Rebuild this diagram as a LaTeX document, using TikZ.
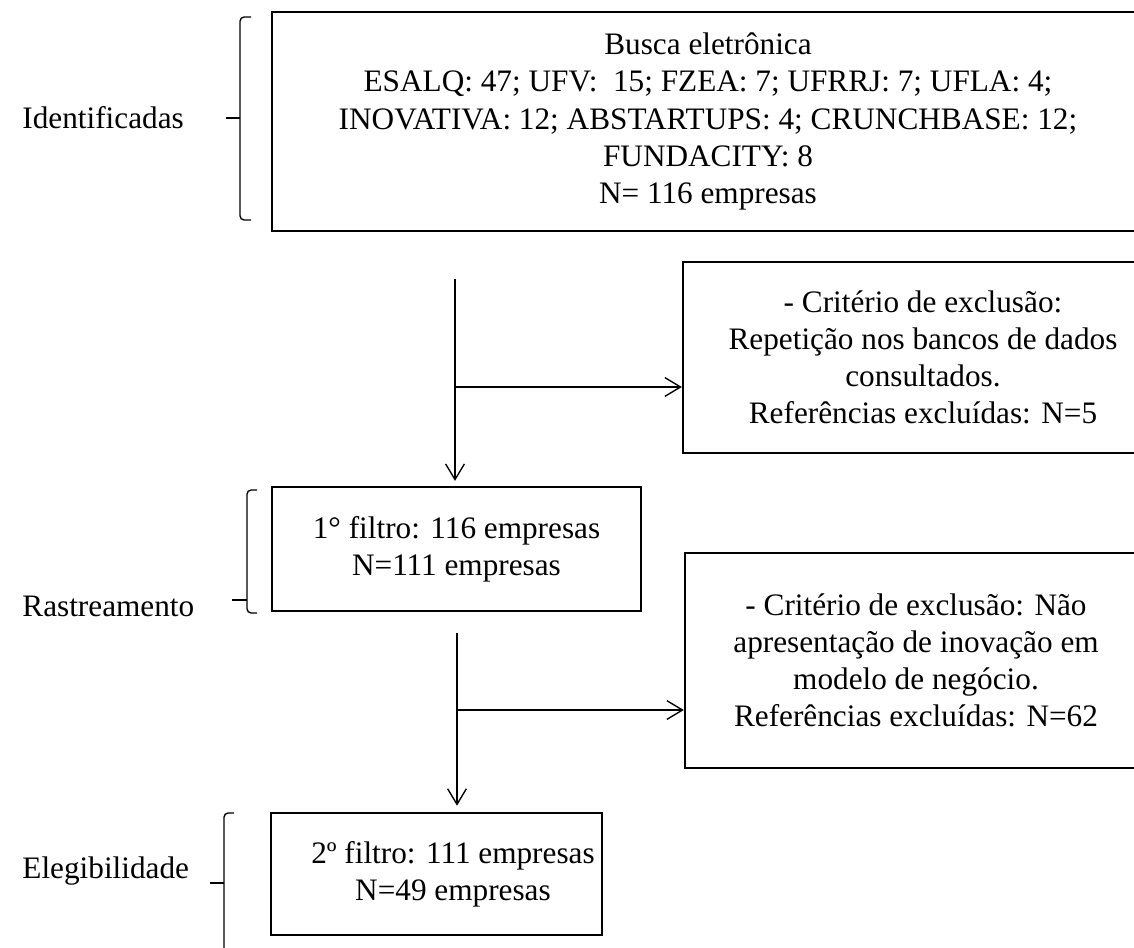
\documentclass[tikz,border=0pt]{standalone}
\usepackage{fontspec}
\setmainfont{Liberation Serif}
\usetikzlibrary{
    arrows.meta,
    positioning
}
\tikzstyle{caixa} = [
    draw,
    line width=1.1pt,
    inner sep=0pt,
    align=center,
    font=\fontsize{15}{17.8}\selectfont
]
\tikzstyle{etapa} = [
    inner sep=0pt,
    anchor=base west,
    font=\fontsize{15}{17.8}\selectfont
]
\tikzstyle{seta} = [
    line width=0.65pt,
    -{Straight Barb[length=7.5pt, width=9pt]}
]
\tikzstyle{chave} = [
    line width=0.65pt,
    rounded corners=2pt
]

\begin{document}
\begin{tikzpicture}[x=0.48pt, y=-0.48pt]
\useasboundingbox (0,0) rectangle (1134,947);

% Caixas (as da direita saem da figura)
\node[caixa, minimum width=418.6pt, minimum height=105pt] (busca) at (708,121.5)
    {Busca eletrônica\\ESALQ: 47; UFV: ~15; FZEA: 7; UFRRJ: 7; UFLA: 4;\\INOVATIVA: 12; ABSTARTUPS: 4; CRUNCHBASE: 12;\\FUNDACITY: 8\\N= 116 empresas};
\node[caixa, minimum width=230.4pt, minimum height=91.7pt] (excl1) at (923,357.5)
    {- Critério de exclusão:\\Repetição nos bancos de dados\\consultados.\\Referências excluídas: N=5};
\node[caixa, minimum width=177pt, minimum height=59.5pt] (filtro1) at (456.5,549)
    {1° filtro: 116 empresas\\N=111 empresas};
\node[caixa, minimum width=221.8pt, minimum height=103pt] (excl2) at (916,660.5)
    {- Critério de exclusão: Não\\apresentação de inovação em\\modelo de negócio.\\Referências excluídas: N=62};
\node[caixa, minimum width=159pt, minimum height=58.5pt] (filtro2) at (436.5,874) {};
\node[inner sep=0pt, align=center, font=\fontsize{15}{17.8}\selectfont] (filtro2txt) at (453,874)
    {2º filtro: 111 empresas\\N=49 empresas};

% Etapas
\node[etapa] (ident) at (22,128) {Identificadas};
\node[etapa] (rastr) at (22,616) {Rastreamento};
\node[etapa] (elegi) at (22,878) {Elegibilidade};

% Chaves
\draw[chave] (251,17) -- (240,17) -- (240,220) -- (251,220);
\draw[line width=0.65pt] (240,118) -- (226,118);
\draw[chave] (257,490) -- (247,490) -- (247,613) -- (257,613);
\draw[line width=0.65pt] (247,600) -- (232,600);
\draw[chave] (234,813) -- (224,813) -- (224,960);
\draw[line width=0.65pt] (224,883) -- (210,883);

% Setas
\coordinate (a1) at (455,279);
\coordinate (r1) at (455,387);
\draw[seta, shorten >=2.4pt] (a1) -- (a1 |- filtro1.north);
\draw[seta] (r1) -- (r1 -| excl1.west);

\coordinate (a2) at (457,633);
\coordinate (r2) at (457,710);
\draw[seta, shorten >=3pt] (a2) -- (a2 |- filtro2.north);
\draw[seta] (r2) -- (r2 -| excl2.west);

\end{tikzpicture}
\end{document}
